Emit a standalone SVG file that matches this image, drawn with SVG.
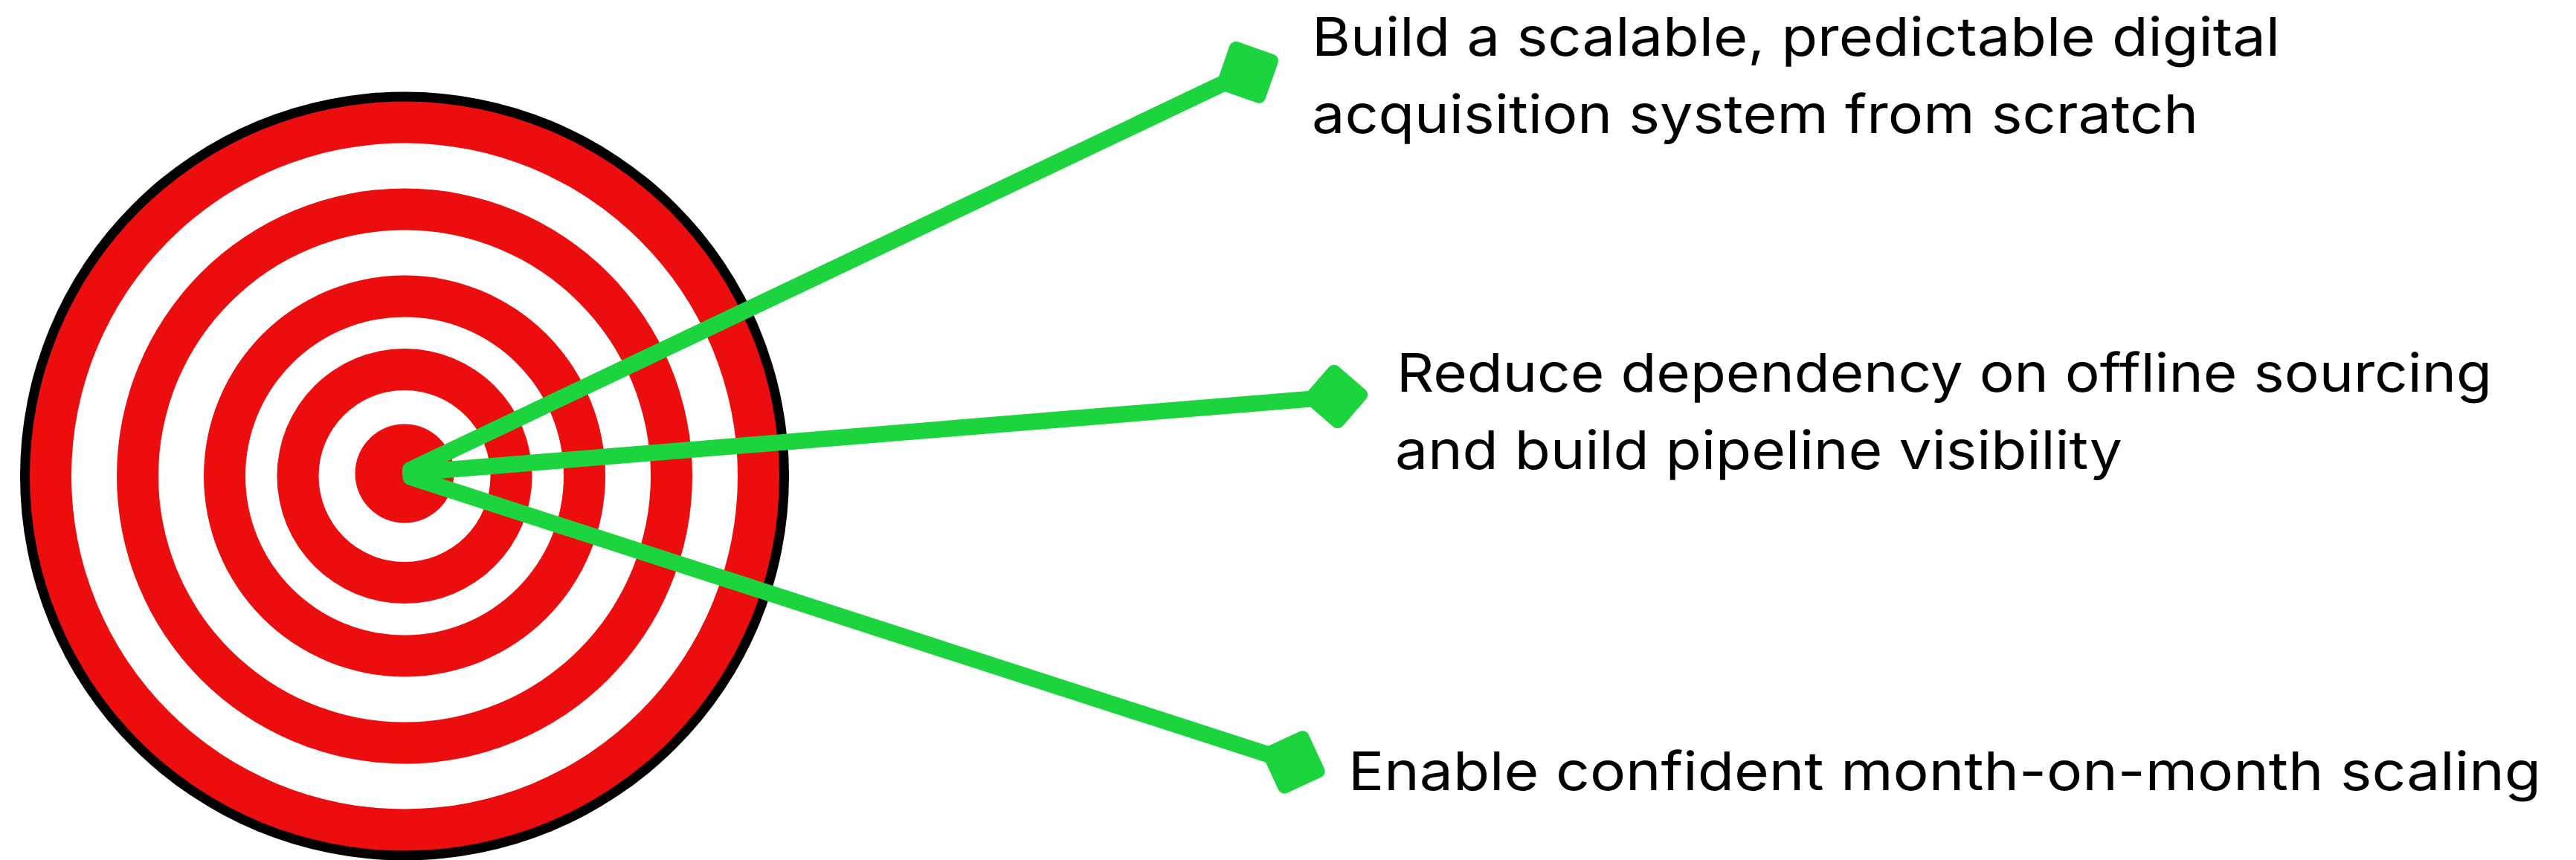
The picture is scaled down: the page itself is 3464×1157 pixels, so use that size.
<svg xmlns="http://www.w3.org/2000/svg" width="3464" height="1157" viewBox="0 0 3464 1157">
<style>
.r{fill:#ec0e0e}.w{fill:#fff}.k{fill:#000}
.c{stroke:#1bd43e;stroke-width:22;stroke-linecap:round;fill:none}
.d{fill:#1bd43e}
.t{font-family:"Inter","Liberation Sans",sans-serif;font-size:72px;fill:#000}
</style>
<rect class="w" width="3464" height="1157"/>
<g id="target">
<circle class="k" cx="544" cy="640.5" r="517"/>
<circle class="r" cx="544" cy="640.5" r="504"/>
<circle class="w" cx="544" cy="640.5" r="448"/>
<circle class="r" cx="544" cy="640.5" r="387"/>
<circle class="w" cx="544" cy="640.5" r="331"/>
<circle class="r" cx="544" cy="640.5" r="270"/>
<circle class="w" cx="544" cy="640.5" r="214"/>
<circle class="r" cx="544" cy="640.5" r="171.5"/>
<circle class="w" cx="544" cy="640.5" r="115.5"/>
<circle class="r" cx="544" cy="637" r="66.5"/>
</g>
<g id="connectors">
<line class="c" x1="552" y1="632" x2="1677" y2="97"/>
<line class="c" x1="552" y1="636" x2="1796" y2="534"/>
<line class="c" x1="552.5" y1="642" x2="1739" y2="1026"/>
</g>
<g id="node-1">
<rect class="d" x="-34.5" y="-34.5" width="69" height="69" rx="9" transform="translate(1677.5 97.3) rotate(19.3)"/>
<text class="t" x="1764" y="75" textLength="1302" lengthAdjust="spacingAndGlyphs">Build a scalable, predictable digital</text>
<text class="t" x="1764" y="179" textLength="1192" lengthAdjust="spacingAndGlyphs">acquisition system from scratch</text>
</g>
<g id="node-2">
<rect class="d" x="-33" y="-33" width="66" height="66" rx="9" transform="translate(1796.3 533.5) rotate(40.8)"/>
<text class="t" x="1878" y="527" textLength="1473" lengthAdjust="spacingAndGlyphs">Reduce dependency on offline sourcing</text>
<text class="t" x="1876" y="631" textLength="978" lengthAdjust="spacingAndGlyphs">and build pipeline visibility</text>
</g>
<g id="node-3">
<rect class="d" x="-34" y="-34" width="68" height="68" rx="9" transform="translate(1739.4 1025.4) rotate(-24.7)"/>
<text class="t" x="1813" y="1063" textLength="1604" lengthAdjust="spacingAndGlyphs">Enable confident month-on-month scaling</text>
</g>
</svg>
